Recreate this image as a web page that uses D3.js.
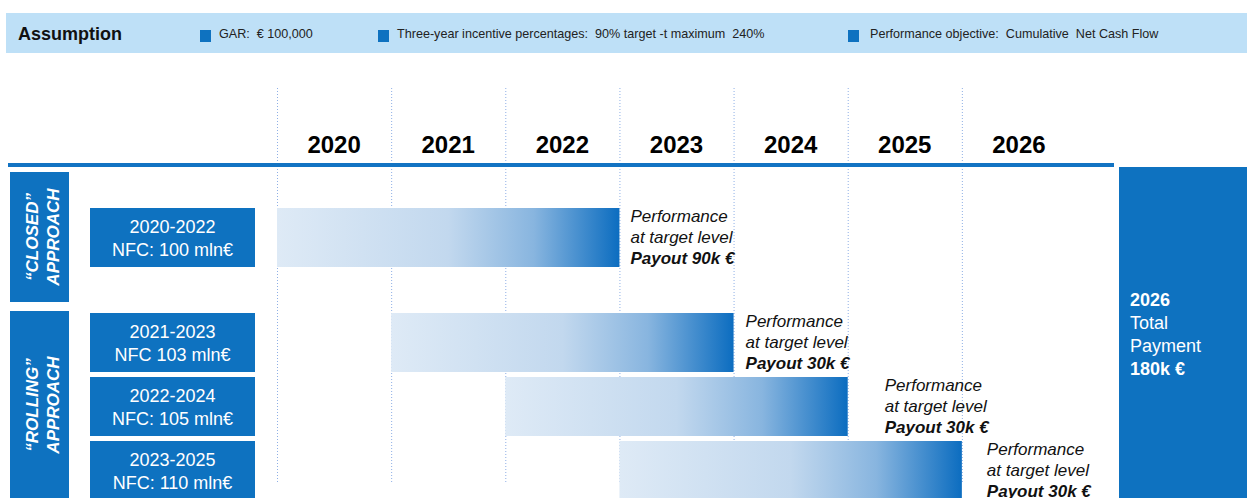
<!DOCTYPE html>
<html>
<head>
<meta charset="utf-8">
<script src="https://cdn.jsdelivr.net/npm/d3@7"></script>
<style>
  body { margin: 0; background: #fff; }
  svg { display: block; font-family: "Liberation Sans", Arial, sans-serif; }
  text { white-space: pre; }
</style>
</head>
<body>
<div id="chart"></div>
<script>

// ----------------------- DATA

var years = [2020, 2021, 2022, 2023, 2024, 2025, 2026];

var assumptions = [
    "GAR:  € 100,000",
    "Three-year incentive percentages:  90% target -t maximum  240%",
    "Performance objective:  Cumulative  Net Cash Flow"
];

var planPeriods = ["2020-2022", "2021-2023", "2022-2024", "2023-2025"];
var planNfc = ["NFC: 100 mln€", "NFC 103 mln€", "NFC: 105 mln€", "NFC: 110 mln€"];
var planStart = [2020, 2021, 2022, 2023];
var planEnd = [2022, 2023, 2024, 2025];
var planApproach = ["closed", "rolling", "rolling", "rolling"];
var planPayout = ["Payout 90k €", "Payout 30k €", "Payout 30k €", "Payout 30k €"];

var approachNames = ["closed", "rolling"];
var approachLabels = [["“CLOSED”", "APPROACH"], ["“ROLLING”", "APPROACH"]];

var totalLines = ["2026", "Total", "Payment", "180k €"];

// ----------------------- LAYOUT

var W = 1247, H = 498;
var blue = "#0E72C0";

var svg = d3.select("#chart").append("svg")
    .attr("width", W)
    .attr("height", H);

var defs = svg.append("defs");
var grad = defs.append("linearGradient")
    .attr("id", "barGrad")
    .attr("x1", "0%").attr("x2", "100%")
    .attr("y1", "0%").attr("y2", "0%");
grad.append("stop").attr("offset", "0%").attr("stop-color", "#DEEAF6");
grad.append("stop").attr("offset", "50%").attr("stop-color", "#C2D8EE");
grad.append("stop").attr("offset", "75%").attr("stop-color", "#88B5DF");
grad.append("stop").attr("offset", "100%").attr("stop-color", "#0C6DC0");

// year scale: a plan covers from the start of its first year to the end of its last
var x = d3.scaleLinear().domain([2020, 2027]).range([277, 1076]);

// row positions
function rowTop(i) {
    if (planApproach[i] == "closed") return 208;
    var k = i - planApproach.indexOf("rolling");
    return 313 + k * 64;
}
var rowH = 59;

// ----------------------- HEADER

svg.append("rect")
    .attr("x", 6).attr("y", 13)
    .attr("width", W - 6).attr("height", 40)
    .attr("fill", "#BEE0F7");

svg.append("text")
    .attr("x", 18).attr("y", 40)
    .attr("font-size", 18)
    .attr("font-weight", "bold")
    .attr("fill", "#111")
    .text("Assumption");

var legendX = [200, 378, 848];
var legend = svg.selectAll(".legend")
    .data(assumptions)
    .enter().append("g")
    .attr("class", "legend")
    .attr("transform", function (d, i) { return "translate(" + legendX[i] + ",0)"; });

legend.append("rect")
    .attr("x", 0).attr("y", 30)
    .attr("width", 11).attr("height", 12)
    .attr("fill", blue);

legend.append("text")
    .attr("x", function (d, i) { return i == 2 ? 22 : 19; })
    .attr("y", 38)
    .attr("font-size", 12.6)
    .attr("fill", "#222")
    .text(function (d) { return d; });

// ----------------------- YEAR GRID

svg.selectAll(".grid")
    .data(years)
    .enter().append("line")
    .attr("class", "grid")
    .attr("x1", function (d) { return x(d) + 0.5; })
    .attr("x2", function (d) { return x(d) + 0.5; })
    .attr("y1", 88).attr("y2", 483)
    .attr("stroke", "#8EAFE6")
    .attr("stroke-width", 1)
    .attr("stroke-dasharray", "1,2");

svg.selectAll(".year")
    .data(years)
    .enter().append("text")
    .attr("class", "year")
    .attr("x", function (d) { return (x(d) + x(d + 1)) / 2; })
    .attr("y", 153)
    .attr("text-anchor", "middle")
    .attr("font-size", 24)
    .attr("font-weight", "bold")
    .attr("fill", "#000")
    .text(function (d) { return d; });

svg.append("rect")
    .attr("x", 8).attr("y", 163)
    .attr("width", 1114 - 8).attr("height", 4)
    .attr("fill", "#1273C3");

// ----------------------- APPROACH BOXES

var approachBox = [[172, 302], [311, 560]];

var ap = svg.selectAll(".approach")
    .data(approachNames)
    .enter().append("g")
    .attr("class", "approach");

ap.append("rect")
    .attr("x", 10)
    .attr("y", function (d, i) { return approachBox[i][0]; })
    .attr("width", 59)
    .attr("height", function (d, i) { return approachBox[i][1] - approachBox[i][0]; })
    .attr("fill", blue);

var apCenter = [237, 405];
ap.each(function (d, i) {
    var g = d3.select(this);
    approachLabels[i].forEach(function (line, j) {
        g.append("text")
            .attr("transform", "translate(" + (38 + j * 21) + "," + apCenter[i] + ") rotate(-90)")
            .attr("text-anchor", "middle")
            .attr("font-size", 17)
            .attr("font-weight", "bold")
            .attr("font-style", "italic")
            .attr("fill", "#fff")
            .text(line);
    });
});

// ----------------------- PLAN ROWS

var rows = svg.selectAll(".plan")
    .data(planPeriods)
    .enter().append("g")
    .attr("class", "plan");

rows.append("rect")
    .attr("x", 90)
    .attr("y", function (d, i) { return rowTop(i); })
    .attr("width", 165)
    .attr("height", rowH)
    .attr("fill", blue);

rows.append("text")
    .attr("x", 172.5)
    .attr("y", function (d, i) { return rowTop(i) + 25; })
    .attr("text-anchor", "middle")
    .attr("font-size", 18)
    .attr("fill", "#fff")
    .text(function (d) { return d; });

rows.append("text")
    .attr("x", 172.5)
    .attr("y", function (d, i) { return rowTop(i) + 48; })
    .attr("text-anchor", "middle")
    .attr("font-size", 18)
    .attr("fill", "#fff")
    .text(function (d, i) { return planNfc[i]; });

rows.append("rect")
    .attr("x", function (d, i) { return x(planStart[i]); })
    .attr("y", function (d, i) { return rowTop(i); })
    .attr("width", function (d, i) { return x(planEnd[i] + 1) - x(planStart[i]); })
    .attr("height", rowH)
    .attr("fill", "url(#barGrad)");

// annotation to the right of each bar
var noteDx = [11, 12, 37, 25];
rows.each(function (d, i) {
    var g = d3.select(this);
    var nx = x(planEnd[i] + 1) + noteDx[i];
    var ny = rowTop(i) + 14;
    var lines = ["Performance", "at target level", planPayout[i]];
    lines.forEach(function (line, j) {
        g.append("text")
            .attr("x", nx)
            .attr("y", ny + j * 21)
            .attr("font-size", 17)
            .attr("font-style", "italic")
            .attr("font-weight", j == 2 ? "bold" : "normal")
            .attr("fill", "#111")
            .text(line);
    });
});

// ----------------------- TOTAL BOX

svg.append("rect")
    .attr("x", 1119).attr("y", 167)
    .attr("width", W - 1119).attr("height", H - 167)
    .attr("fill", blue);

svg.selectAll(".total")
    .data(totalLines)
    .enter().append("text")
    .attr("class", "total")
    .attr("x", 1130)
    .attr("y", function (d, i) { return 306 + i * 23; })
    .attr("font-size", 18)
    .attr("font-weight", function (d, i) { return (i == 0 || i == 3) ? "bold" : "normal"; })
    .attr("fill", "#fff")
    .text(function (d) { return d; });

</script>
</body>
</html>
